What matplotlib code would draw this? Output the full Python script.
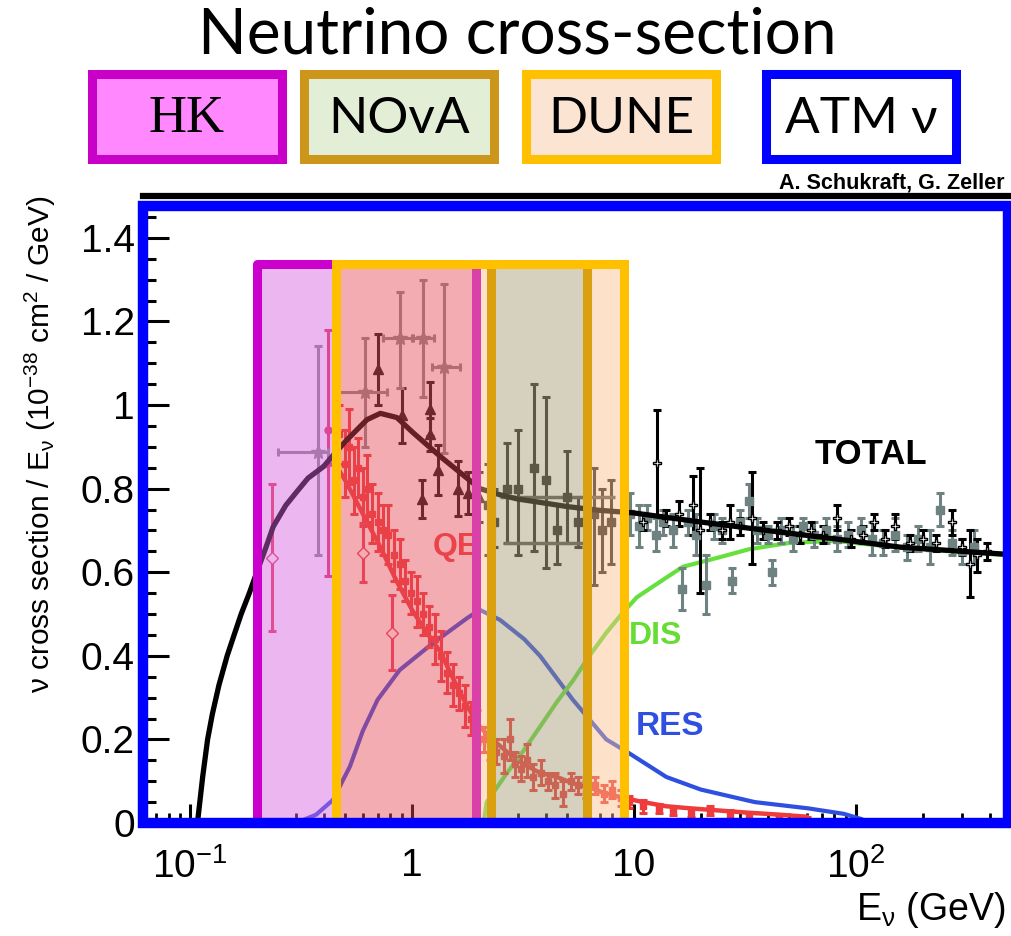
import numpy as np
import matplotlib.pyplot as plt
from matplotlib.patches import Rectangle
from matplotlib.ticker import FixedLocator, LogLocator, MultipleLocator, NullFormatter

plt.rcParams['font.family'] = ['Liberation Sans', 'DejaVu Sans']
plt.rcParams['mathtext.fontset'] = 'custom'
plt.rcParams['mathtext.rm'] = 'Liberation Sans'
plt.rcParams['mathtext.it'] = 'Liberation Sans:italic'

# ---- theory curves ----
total_E = [0.108, 0.114, 0.12, 0.126, 0.135, 0.147, 0.158, 0.17, 0.185, 0.2, 0.22, 0.237,
           0.27, 0.30, 0.34, 0.40, 0.45, 0.51, 0.627, 0.72, 0.855, 1.01, 1.34, 1.65, 2.02,
           2.5, 3.0, 4.0, 5.0, 7.0, 9.9, 20, 39.6, 80, 158, 300, 505]
total_y = [0.0, 0.11, 0.2, 0.26, 0.33, 0.4, 0.45, 0.5, 0.55, 0.6, 0.66, 0.709,
           0.76, 0.79, 0.825, 0.853, 0.885, 0.917, 0.965, 0.98, 0.97, 0.934, 0.877, 0.838,
           0.80, 0.785, 0.775, 0.765, 0.757, 0.748, 0.742, 0.72, 0.70, 0.68, 0.66, 0.65,
           0.642]

qe_E = [0.40, 0.45, 0.5, 0.6, 0.72, 0.85, 1.0, 1.15, 1.34, 1.55, 1.77, 2.02, 2.3, 2.68,
        3.2, 3.77, 4.5, 5.3, 6.3, 7.5, 9, 11, 14, 18, 24, 32, 45, 60]
qe_y = [0.853, 0.86, 0.82, 0.74, 0.66, 0.58, 0.51, 0.46, 0.41, 0.34, 0.28, 0.23, 0.20,
        0.17, 0.14, 0.12, 0.11, 0.095, 0.085, 0.07, 0.06, 0.05, 0.04, 0.035, 0.03, 0.025,
        0.02, 0.015]

res_E = [0.30, 0.37, 0.44, 0.525, 0.60, 0.70, 0.88, 1.24, 1.77, 2.02, 2.49, 3.2, 3.77,
         5.3, 7.5, 9.5, 14, 20, 35, 61, 88, 105]
res_y = [0.0, 0.02, 0.055, 0.135, 0.22, 0.295, 0.366, 0.43, 0.49, 0.51, 0.486, 0.44,
         0.40, 0.295, 0.2, 0.167, 0.11, 0.08, 0.05, 0.035, 0.022, 0.01]

dis_E = [2.1, 2.17, 2.68, 3.2, 3.77, 4.5, 5.3, 6.3, 7.5, 8.8, 10.3, 13.8, 16.6, 24, 33,
         50, 80, 150, 300, 494]
dis_y = [0.0, 0.05, 0.12, 0.175, 0.23, 0.29, 0.34, 0.40, 0.455, 0.50, 0.54, 0.585, 0.613,
         0.635, 0.655, 0.67, 0.675, 0.66, 0.648, 0.64]

# ---- data points ----
qe_pts_E = [0.47, 0.50, 0.52, 0.55, 0.57, 0.60, 0.63, 0.66, 0.70, 0.74, 0.78, 0.83, 0.88,
            0.93, 0.99, 1.05, 1.12, 1.19, 1.27, 1.35, 1.44, 1.53, 1.63, 1.73, 1.84, 1.96,
            2.1, 2.25, 2.4, 2.6, 2.75, 2.9, 3.1, 3.3, 3.5, 3.8, 4.1, 4.4, 4.8, 5.2, 5.6,
            6.1, 6.7, 7.3, 8.0, 8.7, 9.5, 11, 13, 15, 18, 22, 27, 33, 45, 60, 90]
qe_pts_y = [0.93, 0.86, 0.90, 0.82, 0.85, 0.78, 0.80, 0.74, 0.72, 0.70, 0.69, 0.64, 0.62,
            0.58, 0.55, 0.53, 0.50, 0.47, 0.44, 0.40, 0.36, 0.33, 0.31, 0.28, 0.25, 0.23,
            0.20, 0.19, 0.17, 0.16, 0.20, 0.14, 0.13, 0.15, 0.11, 0.12, 0.10, 0.09, 0.07,
            0.10, 0.09, 0.08, 0.09, 0.07, 0.08, 0.06, 0.05, 0.04, 0.035, 0.03, 0.025,
            0.03, 0.02, 0.015, 0.01, 0.005, 0.0]
qe_pts_err = [0.07, 0.08, 0.09, 0.08, 0.07, 0.07, 0.08, 0.07, 0.07, 0.06, 0.07, 0.06, 0.06,
              0.05, 0.05, 0.06, 0.05, 0.05, 0.06, 0.06, 0.05, 0.05, 0.04, 0.05, 0.04, 0.04,
              0.03, 0.04, 0.03, 0.04, 0.05, 0.03, 0.03, 0.04, 0.03, 0.03, 0.02, 0.03, 0.03,
              0.02, 0.02, 0.02, 0.02, 0.02, 0.02, 0.02, 0.015, 0.015, 0.01, 0.01, 0.01,
              0.01, 0.01, 0.01, 0.01, 0.01, 0.01]

qe_open_E = [0.234, 0.60, 0.81]
qe_open_y = [0.635, 0.647, 0.455]
qe_open_err = [0.175, 0.07, 0.09]

red_big_E = [0.418]
red_big_y = [0.94]
red_big_lo = [0.35]
red_big_hi = [0.24]

tot_lo_E = [0.70, 0.90, 1.2, 1.2, 1.31, 1.11, 1.61, 1.79, 2.0]
tot_lo_y = [1.085, 0.975, 0.99, 0.93, 0.845, 0.775, 0.80, 0.79, 0.78]
tot_lo_err = [0.085, 0.065, 0.065, 0.04, 0.06, 0.045, 0.065, 0.05, 0.06]

wide_E = [0.378, 0.614, 0.88, 1.12, 1.40]
wide_y = [0.888, 1.03, 1.16, 1.16, 1.09]
wide_xlo = [0.25, 0.45, 0.74, 1.00, 1.23]
wide_xhi = [0.42, 0.77, 1.01, 1.25, 1.64]
wide_ylo = [0.64, 0.90, 1.04, 1.02, 0.886]
wide_yhi = [1.14, 1.16, 1.27, 1.30, 1.29]

nova_E = [2.2, 2.35, 2.68, 3.0, 3.54, 4.0, 4.5, 5.0, 5.6, 6.6, 7.2, 7.9]
nova_y = [0.76, 0.72, 0.80, 0.80, 0.85, 0.82, 0.70, 0.78, 0.72, 0.74, 0.70, 0.72]
nova_lo = [0.64, 0.66, 0.67, 0.64, 0.65, 0.61, 0.62, 0.67, 0.66, 0.57, 0.60, 0.62]
nova_hi = [0.86, 0.80, 0.91, 0.94, 1.05, 1.02, 0.76, 0.89, 0.78, 0.85, 0.80, 0.82]

band_pts_E = [5.0, 4.0]
band_pts_y = [0.78, 0.67]
band_pts_xlo = [2.5, 2.6]
band_pts_xhi = [8.2, 5.9]

grey_E = [9.6, 10.5, 11.5, 12.5, 13.5, 15, 16.5, 17.5, 19, 21, 23, 25, 27.5, 30, 33, 36,
          40, 42, 46, 52, 58, 65, 73, 82, 92, 105, 118, 132, 150, 170, 190, 215, 240, 270,
          300, 340]
grey_y = [0.74, 0.71, 0.73, 0.69, 0.72, 0.70, 0.56, 0.72, 0.69, 0.57, 0.71, 0.70, 0.58,
          0.72, 0.77, 0.70, 0.69, 0.60, 0.70, 0.68, 0.71, 0.69, 0.70, 0.68, 0.69, 0.70,
          0.68, 0.67, 0.69, 0.66, 0.68, 0.66, 0.75, 0.67, 0.65, 0.66]
grey_err = [0.05, 0.05, 0.03, 0.04, 0.03, 0.04, 0.05, 0.03, 0.05, 0.07, 0.03, 0.03, 0.03,
            0.03, 0.04, 0.03, 0.02, 0.03, 0.03, 0.03, 0.02, 0.03, 0.03, 0.03, 0.03, 0.03,
            0.04, 0.03, 0.04, 0.03, 0.03, 0.04, 0.04, 0.03, 0.03, 0.04]

black_E = [12.7, 11, 14, 16, 18.5, 19.8, 22, 25, 27, 30, 34, 38, 44, 50, 56, 63, 71, 82,
           95, 108, 120, 135, 150, 175, 200, 230, 270, 300, 325, 350, 390]
black_y = [0.862, 0.72, 0.73, 0.74, 0.76, 0.70, 0.72, 0.70, 0.72, 0.71, 0.73, 0.70, 0.70,
           0.71, 0.69, 0.70, 0.69, 0.73, 0.68, 0.69, 0.72, 0.68, 0.71, 0.67, 0.68, 0.67,
           0.72, 0.66, 0.62, 0.64, 0.65]
black_err = [0.125, 0.02, 0.02, 0.03, 0.07, 0.15, 0.02, 0.02, 0.04, 0.02, 0.11, 0.02, 0.02,
             0.02, 0.02, 0.02, 0.02, 0.03, 0.02, 0.02, 0.02, 0.02, 0.03, 0.02, 0.02, 0.02,
             0.03, 0.02, 0.08, 0.04, 0.02]

# experiment energy ranges (GeV)
hk_range = (0.2, 1.94)
dune_range = (0.455, 9.0)
nova_range = (2.27, 6.14)
band_top = 1.338

fig = plt.figure(figsize=(10.12, 9.36), dpi=100)
ax = fig.add_axes([143 / 1012, (936 - 823) / 936, (1008 - 143) / 1012, (823 - 196) / 936])
ax.set_xscale('log')
ax.set_xlim(0.0614, 484)
ax.set_ylim(0, 1.5)

# curves
ax.plot(qe_E, qe_y, color='#EE3B3B', lw=3.2, zorder=2)
ax.plot(res_E, res_y, color='#2F4FE0', lw=3.0, zorder=2)
ax.plot(dis_E, dis_y, color='#66E03C', lw=3.0, zorder=2)

ekw = dict(capsize=3, elinewidth=2.2, capthick=2.2, zorder=3)
ax.errorbar(qe_pts_E, qe_pts_y, yerr=qe_pts_err, fmt='s', ms=4, color='#EE3B3B', **ekw)
ax.errorbar(qe_open_E, qe_open_y, yerr=qe_open_err, fmt='D', ms=6, mfc='white',
            mec='#E8405A', color='#E8405A', **ekw)
ax.errorbar(red_big_E, red_big_y, yerr=[red_big_lo, red_big_hi], fmt='o', ms=5,
            color='#E0305A', **ekw)
ax.errorbar(nova_E, nova_y, yerr=[np.subtract(nova_y, nova_lo), np.subtract(nova_hi, nova_y)],
            fmt='s', ms=6, color='#262420', **ekw)
ax.errorbar(band_pts_E, band_pts_y,
            xerr=[np.subtract(band_pts_E, band_pts_xlo), np.subtract(band_pts_xhi, band_pts_E)],
            fmt='none', color='#555550', elinewidth=2.5, zorder=3)
ax.errorbar(grey_E, grey_y, yerr=grey_err, fmt='s', ms=6, color='#6E8282', **ekw)
ax.errorbar(black_E, black_y, yerr=black_err, fmt='P', ms=6, color='#000000', mfc='white',
            mec='black', **ekw)
ax.errorbar(tot_lo_E, tot_lo_y, yerr=tot_lo_err, fmt='^', ms=7, color='#101010', **ekw)
ax.errorbar(wide_E, wide_y,
            xerr=[np.subtract(wide_E, wide_xlo), np.subtract(wide_xhi, wide_E)],
            yerr=[np.subtract(wide_y, wide_ylo), np.subtract(wide_yhi, wide_y)],
            fmt='*', ms=10, color='#8A8A8A', **ekw)
ax.plot(total_E, total_y, color='black', lw=3.8, zorder=4)

# labels on the curves
ax.text(65, 0.881, 'TOTAL', fontsize=25, fontweight='bold', color='black',
        ha='left', va='center', zorder=5)
ax.text(1.24, 0.66, 'QE', fontsize=23, fontweight='bold', color='#EE4040',
        ha='left', va='center', zorder=2)
ax.text(9.5, 0.448, 'DIS', fontsize=23, fontweight='bold', color='#66DD33',
        ha='left', va='center', zorder=5)
ax.text(10.2, 0.23, 'RES', fontsize=24, fontweight='bold', color='#2F4FE0',
        ha='left', va='center', zorder=5)

# translucent experiment bands
edges = sorted(set([hk_range[0], hk_range[1], dune_range[0], dune_range[1],
                    nova_range[0], nova_range[1]]))
for x0, x1 in zip(edges[:-1], edges[1:]):
    mid = np.sqrt(x0 * x1)
    in_hk = hk_range[0] <= mid <= hk_range[1]
    in_dune = dune_range[0] <= mid <= dune_range[1]
    in_nova = nova_range[0] <= mid <= nova_range[1]
    if in_nova:
        fc = '#A49773'
    elif in_hk and in_dune:
        fc = '#E74758'
    elif in_hk:
        fc = '#D561DE'
    else:
        fc = '#FBBF89'
    ax.add_patch(Rectangle((x0, 0), x1 - x0, band_top, facecolor=fc, alpha=0.45,
                           edgecolor='none', zorder=6))

blw = 6.5
ax.plot([hk_range[0], hk_range[0], dune_range[0]], [0, band_top, band_top],
        color='#CC00CC', lw=blw, zorder=7, solid_capstyle='projecting')
ax.plot([hk_range[1], hk_range[1]], [0, band_top], color='#D940A8', lw=blw, zorder=7)
ax.plot([nova_range[0], nova_range[0]], [0, band_top], color='#DAA010', lw=blw, zorder=7)
ax.plot([nova_range[1], nova_range[1]], [0, band_top], color='#DAA010', lw=blw, zorder=7)
ax.plot([dune_range[0], dune_range[0], dune_range[1], dune_range[1]],
        [0, band_top, band_top, 0], color='#FFC000', lw=blw, zorder=8,
        solid_joinstyle='miter')

# axes styling
for side in ['left', 'bottom', 'right']:
    ax.spines[side].set_visible(False)
ax.spines['top'].set_linewidth(4.5)
ax.spines['top'].set_color('black')

ax.yaxis.set_major_locator(MultipleLocator(0.2))
ax.yaxis.set_minor_locator(MultipleLocator(0.05))
ax.yaxis.set_major_formatter(lambda v, p: f'{v:g}')
ax.xaxis.set_major_locator(FixedLocator([0.1, 1, 10, 100]))
ax.set_xticklabels(['10$^{-1}$', '1', '10', '10$^{2}$'])
ax.xaxis.set_minor_locator(LogLocator(base=10, subs=np.arange(2, 10)))
ax.xaxis.set_minor_formatter(NullFormatter())
ax.tick_params(axis='y', which='major', direction='in', length=19, width=2.2,
               labelsize=28, pad=6, right=False)
ax.tick_params(axis='y', which='minor', direction='in', length=9, width=2.2, right=False)
ax.tick_params(axis='x', which='major', direction='in', length=14, width=2.2,
               labelsize=28, pad=18, top=False)
ax.tick_params(axis='x', which='minor', direction='in', length=7, width=2.0, top=False)

ax.add_patch(Rectangle((0, 0), 1, 1.475 / 1.5, transform=ax.transAxes, fill=False,
                       edgecolor='#0000FF', lw=7.5, clip_on=False, zorder=10))

fig.text(40 / 1012, 1 - 195 / 936,
         'ν cross section / E$_{\\mathrm{ν}}$ (10$^{-38}$ cm$^{2}$ / GeV)',
         rotation=90, ha='center', va='top', fontsize=21.5)
fig.text(1006 / 1012, 1 - 910 / 936, 'E$_{\\mathrm{ν}}$ (GeV)', ha='right', va='center',
         fontsize=27)
fig.text(1005 / 1012, 1 - 183 / 936, 'A. Schukraft, G. Zeller',
         family=['Liberation Sans Narrow', 'Liberation Sans'], fontweight='bold',
         fontsize=15.5, ha='right', va='center')

# title and experiment legend
fig.text(517 / 1012, 1 - 35 / 936, 'Neutrino cross-section', family=['Lato', 'DejaVu Sans'],
         fontsize=46, ha='center', va='center')

legend_items = ['HK', 'NOvA', 'DUNE', 'ATM ν']
legend_edge = ['#C800C8', '#CC961A', '#FFC000', '#0000FF']
legend_face = ['#FF88FF', '#E2EFD6', '#FCE4D2', '#FFFFFF']
legend_x = [88, 300, 522, 762]
box_w, box_y0, box_y1 = 198, 70, 163
for label, ec, fc, x0 in zip(legend_items, legend_edge, legend_face, legend_x):
    fig.patches.append(Rectangle(((x0 + 4) / 1012, 1 - (box_y1 - 4) / 936),
                                 (box_w - 8) / 1012, (box_y1 - box_y0 - 8) / 936,
                                 transform=fig.transFigure, facecolor=fc, edgecolor=ec,
                                 lw=6.5, figure=fig))
    if label == 'HK':
        fam, fs = ['Liberation Serif'], 38
    else:
        fam, fs = ['Lato', 'DejaVu Sans'], 37
    fig.text((x0 + box_w / 2) / 1012, 1 - 119 / 936, label, family=fam, fontsize=fs,
             ha='center', va='center')

fig.savefig('out.png', dpi=100)
